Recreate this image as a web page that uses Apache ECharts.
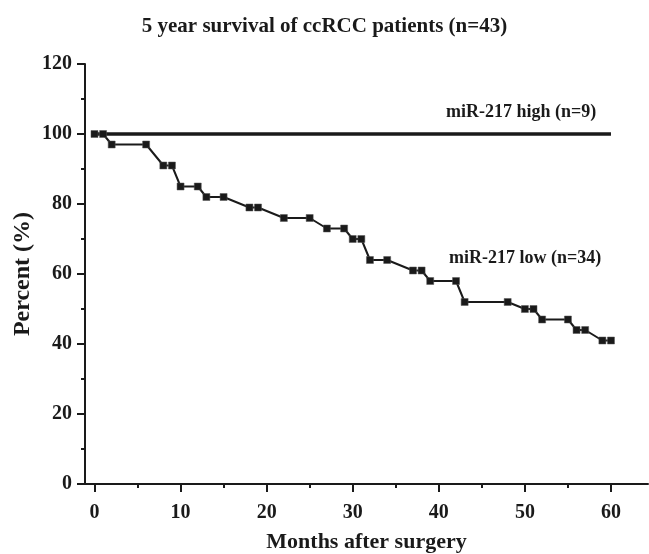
<!DOCTYPE html>
<html>
<head>
<meta charset="utf-8">
<script src="https://cdn.jsdelivr.net/npm/echarts@6/dist/echarts.min.js"></script>
<style>html,body{margin:0;padding:0;background:#fff}#c{width:649px;height:554px}</style>
</head>
<body>
<div id="c"></div>
<script>
var lowMonths = [0,1,2,6,8,9,10,12,13,15,18,19,22,25,27,29,30,31,32,34,37,38,39,42,43,48,50,51,52,55,56,57,59,60];
var lowPercent = [100,100,97,97,91,91,85,85,82,82,79,79,76,76,73,73,70,70,64,64,61,61,58,58,52,52,50,50,47,47,44,44,41,41];
var highMonths = [0,60];
var highPercent = [100,100];
var xMajorTicks = [0,10,20,30,40,50,60];
var xMinorTicks = [5,15,25,35,45,55];
var titleText = '5 year survival of ccRCC patients (n=43)';
var highLabel = 'miR-217 high (n=9)';
var lowLabel = 'miR-217 low (n=34)';

var FONT = 'Liberation Serif';
var ink = '#1a1a1a';
var chart = echarts.init(document.getElementById('c'));
function pairs(xs, ys){ return xs.map(function(x,i){ return [x, ys[i]]; }); }
chart.setOption({
  animation: false,
  backgroundColor: '#fff',
  title: {
    text: titleText, left: 'center', top: 11,
    textStyle: {fontFamily: FONT, fontWeight: 'bold', fontSize: 21, color: ink}
  },
  grid: {left: 85, right: 1, top: 64, bottom: 70, containLabel: false, outerBoundsMode: 'none'},
  xAxis: [{
    type: 'value', min: -1.1, max: 64.3,
    name: 'Months after surgery', nameLocation: 'middle', nameGap: 47, nameMoveOverlap: false,
    nameTextStyle: {fontFamily: FONT, fontWeight: 'bold', fontSize: 22, color: ink},
    axisLine: {show: true, onZero: false, lineStyle: {color: ink, width: 2}},
    axisTick: {show: true, customValues: xMajorTicks, length: 8, lineStyle: {color: ink, width: 2}},
    axisLabel: {customValues: xMajorTicks, margin: 19, fontFamily: FONT, fontWeight: 'bold', fontSize: 20, color: ink},
    splitLine: {show: false}
  }, {
    type: 'value', min: -1.1, max: 64.3, position: 'bottom',
    axisLine: {show: false, onZero: false},
    axisTick: {show: true, customValues: xMinorTicks, length: 4, lineStyle: {color: ink, width: 2}},
    axisLabel: {show: false},
    splitLine: {show: false}
  }],
  yAxis: {
    type: 'value', min: 0, max: 120, interval: 20,
    name: 'Percent (%)', nameLocation: 'middle', nameGap: 50, nameMoveOverlap: false,
    nameTextStyle: {fontFamily: FONT, fontWeight: 'bold', fontSize: 24, color: ink},
    axisLine: {show: true, onZero: false, lineStyle: {color: ink, width: 2}},
    axisTick: {show: true, length: 8, lineStyle: {color: ink, width: 2}},
    minorTick: {show: true, splitNumber: 2, length: 4, lineStyle: {color: ink, width: 2}},
    axisLabel: {margin: 13, fontFamily: FONT, fontWeight: 'bold', fontSize: 20, color: ink},
    splitLine: {show: false}
  },
  series: [{
    type: 'line', name: highLabel, data: pairs(highMonths, highPercent),
    showSymbol: false, symbol: 'none',
    lineStyle: {color: ink, width: 3.5}
  }, {
    type: 'line', name: lowLabel, data: pairs(lowMonths, lowPercent),
    symbol: 'rect', symbolSize: 7, showSymbol: true,
    itemStyle: {color: ink, borderColor: '#555', borderWidth: 0.5},
    lineStyle: {color: ink, width: 2}
  }],
  graphic: [{
    type: 'text', left: 446, top: 103,
    style: {text: highLabel, font: 'bold 18px "Liberation Serif"', fill: ink}
  }, {
    type: 'text', left: 449, top: 249,
    style: {text: lowLabel, font: 'bold 18px "Liberation Serif"', fill: ink}
  }]
});
</script>
</body>
</html>
